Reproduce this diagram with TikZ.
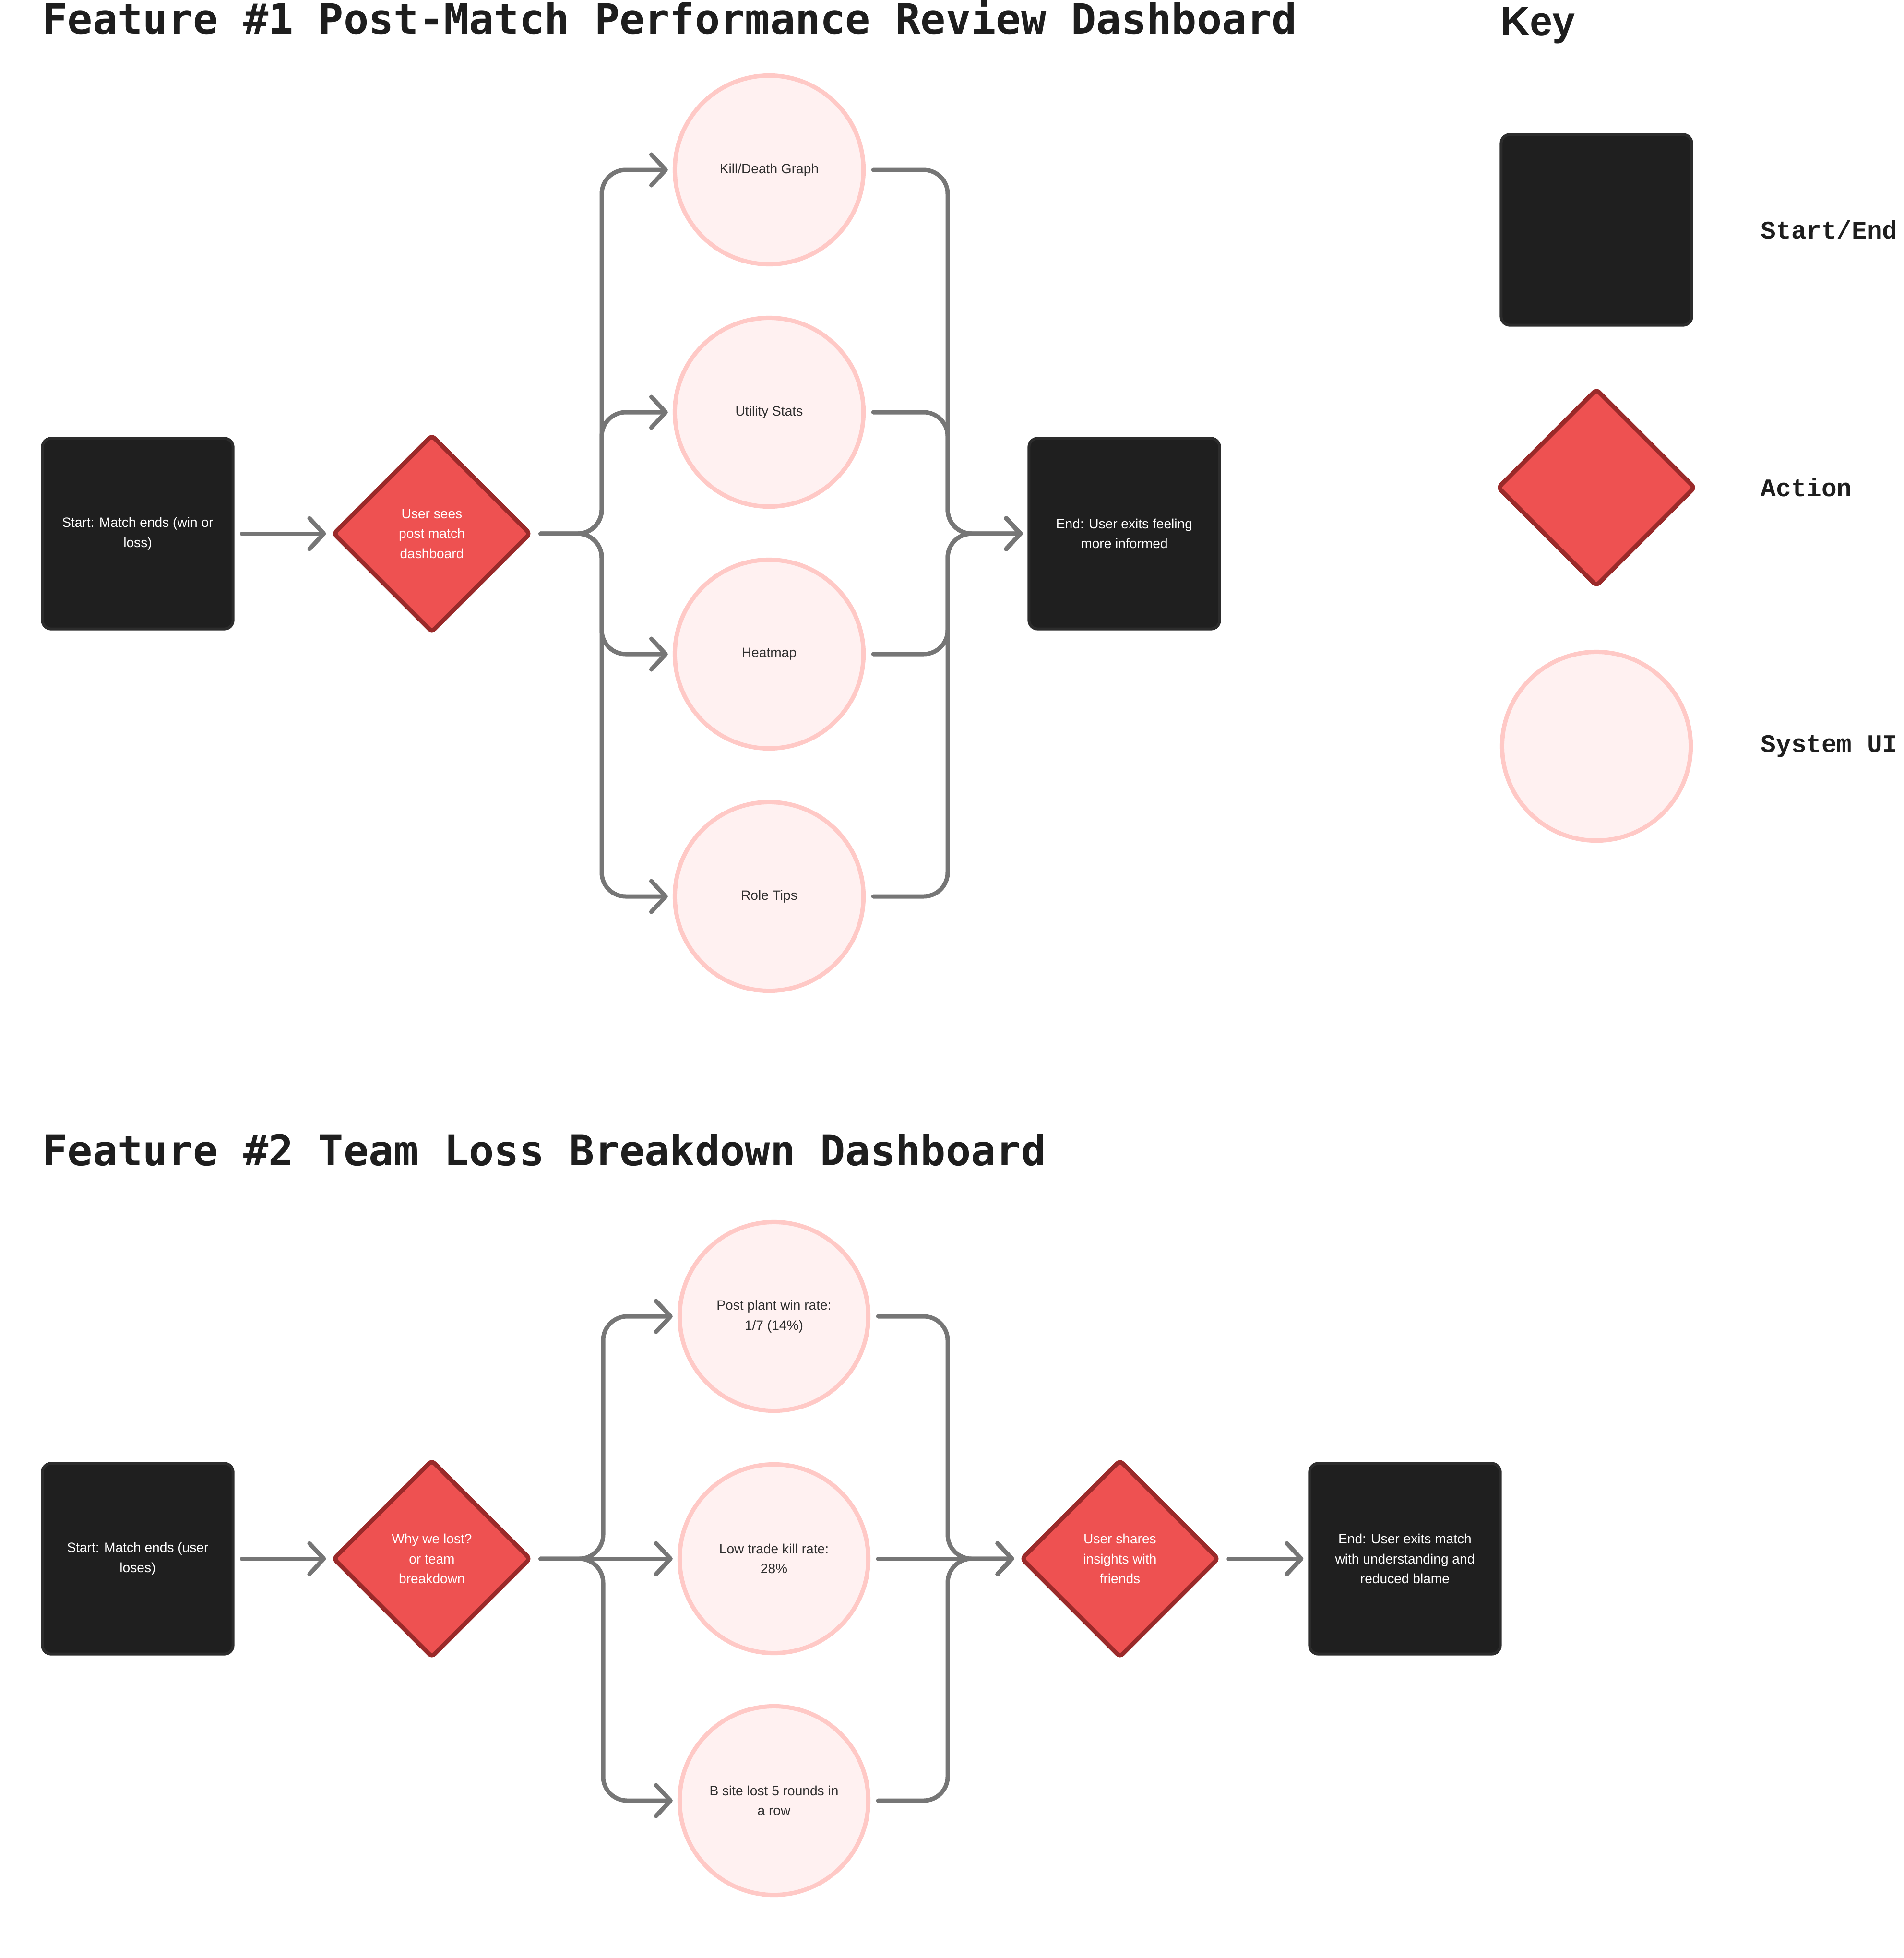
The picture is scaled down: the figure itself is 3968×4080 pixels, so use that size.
\documentclass[tikz,border=0pt]{standalone}
\usepackage{fontspec}
\setmainfont{Liberation Sans}
\newfontfamily\titlefont{DejaVu Sans Mono}
\newfontfamily\keyfont{Liberation Mono}
\usetikzlibrary{shapes.geometric,arrows.meta}

\definecolor{boxblack}{HTML}{1F1F1F}
\definecolor{boxedge}{HTML}{2C2C2C}
\definecolor{actred}{HTML}{EE5151}
\definecolor{actedge}{HTML}{9A2A2A}
\definecolor{uipink}{HTML}{FFF1F1}
\definecolor{uiedge}{HTML}{FFC9C6}
\definecolor{flowgray}{HTML}{767676}
\definecolor{inkdark}{HTML}{1E1E1E}
\definecolor{uitext}{HTML}{2E2E2E}

\begin{document}
\begin{tikzpicture}[x=0.01cm,y=-0.01cm,
	small/.style={font=\fontsize{8pt}{11.8pt}\selectfont},
	endpoint/.style={small,rectangle,rounded corners=0.18cm,fill=boxblack,draw=boxedge,line width=0.06cm,minimum width=3.97cm,minimum height=3.97cm,inner sep=0pt,text=white,align=center},
	action/.style={small,diamond,aspect=1,rounded corners=0.08cm,fill=actred,draw=actedge,line width=0.09cm,minimum width=4.12cm,minimum height=4.12cm,inner sep=0pt,text=white,align=center},
	sysui/.style={small,circle,fill=uipink,draw=uiedge,line width=0.09cm,minimum size=3.93cm,inner sep=0pt,text=uitext,align=center},
	flow/.style={draw=flowgray,line width=0.09cm,line cap=round,rounded corners=0.5cm,-{Straight Barb[length=0.3cm,width=0.64cm,line cap=round,line join=round]},shorten <=0.16cm,shorten >=0.1cm},
	heading/.style={anchor=base west,inner sep=0pt,text=inkdark,font=\titlefont\bfseries\fontsize{24.7pt}{30pt}\selectfont},
	keylabel/.style={anchor=west,inner sep=0pt,text=inkdark,font=\keyfont\bfseries\fontsize{15pt}{18pt}\selectfont}]
	\useasboundingbox (0,0) rectangle (3968,4080);

	\node[heading] (t1) at (88,70) {Feature \#1 Post-Match Performance Review Dashboard};
	\node[endpoint] (st1) at (287,1112) {Start: Match ends (win or\\loss)};
	\node[action] (act1) at (900,1112) {User sees\\post match\\dashboard};
	\node[sysui] (kd) at (1603,354) {Kill/Death Graph};
	\node[sysui] (us) at (1603,859) {Utility Stats};
	\node[sysui] (hm) at (1603,1363) {Heatmap};
	\node[sysui] (rt) at (1603,1868) {Role Tips};
	\node[endpoint] (en1) at (2343,1112) {End: User exits feeling\\more informed};
	\coordinate (s1) at (1254,1112);
	\coordinate (m1) at (1975,1112);
	\draw[flow] (st1.east) -- (act1.west);
	\foreach \c in {kd,us,hm,rt}{
		\draw[flow] (act1.east) -- (s1) |- (\c.west);
		\draw[flow] (\c.east) -| (m1) -- (en1.west);
	}

	\node[heading] (t2) at (88,2428) {Feature \#2 Team Loss Breakdown Dashboard};
	\node[endpoint] (st2) at (287,3248) {Start: Match ends (user\\loses)};
	\node[action] (act2) at (900,3248) {Why we lost?\\or team\\breakdown};
	\node[sysui] (ppw) at (1613,2743) {Post plant win rate:\\1/7 (14\%)};
	\node[sysui] (ltk) at (1613,3248) {Low trade kill rate:\\28\%};
	\node[sysui] (bsl) at (1613,3752) {B site lost 5 rounds in\\a row};
	\node[action] (act3) at (2334,3248) {User shares\\insights with\\friends};
	\node[endpoint] (en2) at (2928,3248) {End: User exits match\\with understanding and\\reduced blame};
	\coordinate (s2) at (1257,3248);
	\coordinate (m2) at (1975,3248);
	\draw[flow] (st2.east) -- (act2.west);
	\foreach \c in {ppw,bsl}{
		\draw[flow] (act2.east) -- (s2) |- (\c.west);
		\draw[flow] (\c.east) -| (m2) -- (act3.west);
	}
	\draw[flow] (act2.east) -- (ltk.west);
	\draw[flow] (ltk.east) -- (act3.west);
	\draw[flow] (act3.east) -- (en2.west);

	\node[anchor=base west,inner sep=0pt,text=inkdark,font=\bfseries\fontsize{24pt}{28pt}\selectfont] (keyhead) at (3127,73) {Key};
	\node[endpoint] (keybox) at (3327,479) {};
	\node[action] (keyact) at (3327,1016) {};
	\node[sysui] (keyui) at (3327,1555) {};
	\node[keylabel] (lbse) at (3669,479) {Start/End};
	\node[keylabel] (lbact) at (3669,1016) {Action};
	\node[keylabel] (lbui) at (3669,1555) {System UI};
\end{tikzpicture}
\end{document}
